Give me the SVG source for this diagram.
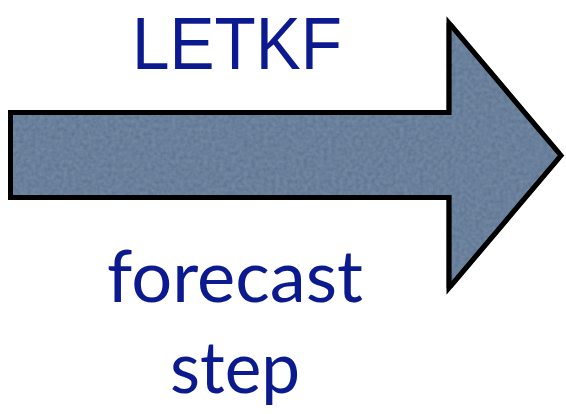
<svg xmlns="http://www.w3.org/2000/svg" width="566" height="414" viewBox="0 0 566 414">
  <style>
    .lbl { font-family: "Lato", "Open Sans", "Liberation Sans", sans-serif; fill: #0b1a8e; }
    .cap { font-family: "Liberation Sans", "Lato", sans-serif; fill: #0b1a8e; }
    .arrow { fill: #587190; stroke: #000; stroke-width: 5; stroke-linejoin: miter; stroke-miterlimit: 10; }
  </style>
  <defs>
    <filter id="tex" x="0" y="0" width="100%" height="100%">
      <feTurbulence type="fractalNoise" baseFrequency="0.25" numOctaves="3" seed="4" result="n"/>
      <feColorMatrix in="n" type="matrix" values="0 0 0 0 0.36  0 0 0 0 0.46  0 0 0 0 0.58  0 0 0 0.35 0" result="c"/>
      <feComposite in="c" in2="SourceGraphic" operator="in" result="ci"/>
      <feMerge><feMergeNode in="SourceGraphic"/><feMergeNode in="ci"/></feMerge>
    </filter>
  </defs>
  <rect width="566" height="414" fill="#fff"/>
  <g id="connectors">
    <g id="big-arrow">
      <path class="arrow" filter="url(#tex)" d="M10.5,112.5 H449 V23 L561,155.5 L449,288 V197.5 H10.5 Z"/>
      <path fill="none" stroke="#000" stroke-width="5" stroke-linejoin="miter" stroke-miterlimit="10" d="M10.5,112.5 H449 V23 L561,155.5 L449,288 V197.5 H10.5 Z"/>
    </g>
  </g>
  <g id="label-letkf">
    <text class="cap" x="132" y="69" font-size="74" textLength="210" lengthAdjust="spacingAndGlyphs">LETKF</text>
  </g>
  <g id="label-forecast-step">
    <text class="lbl" x="107" y="302" font-size="72" textLength="256" lengthAdjust="spacingAndGlyphs">forecast</text>
    <text class="lbl" x="170" y="393" font-size="72" textLength="130" lengthAdjust="spacingAndGlyphs">step</text>
  </g>
</svg>
